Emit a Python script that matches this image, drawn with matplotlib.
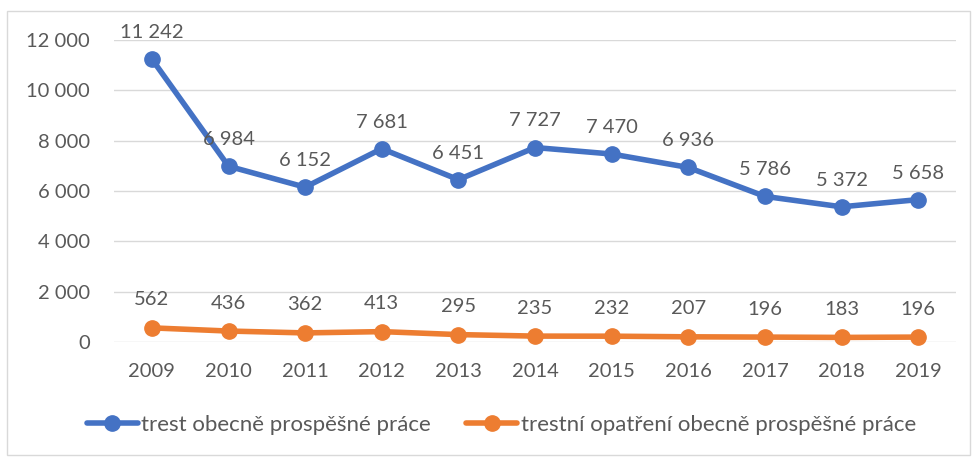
import matplotlib
matplotlib.use("Agg")
import matplotlib.pyplot as plt
from matplotlib.patches import Rectangle

years = ["2009", "2010", "2011", "2012", "2013", "2014", "2015", "2016", "2017", "2018", "2019"]
trest = [11242, 6984, 6152, 7681, 6451, 7727, 7470, 6936, 5786, 5372, 5658]
opatreni = [562, 436, 362, 413, 295, 235, 232, 207, 196, 183, 196]
series_names = ["trest obecně prospěšné práce", "trestní opatření obecně prospěšné práce"]
yticks = [0, 2000, 4000, 6000, 8000, 10000, 12000]

plt.rcParams['font.family'] = ['Lato', 'DejaVu Sans']
txt = '#595959'
blue = '#4472C4'
orange = '#ED7D31'
fs = 14.5

def fmt(v):
    return f"{v:,}".replace(",", " ")

fig = plt.figure(figsize=(9.79, 4.57), dpi=100)
fig.patches.append(Rectangle((7/979, 2/457), 963/979, 444/457, transform=fig.transFigure,
                             fill=False, edgecolor='#D9D9D9', linewidth=1))
ax = fig.add_axes([0.116, 0.2516, 0.861, 0.6609])
x = list(range(len(years)))
ax.plot(x, trest, color=blue, lw=4, marker='o', ms=11, label=series_names[0], zorder=3,
        solid_capstyle='round')
ax.plot(x, opatreni, color=orange, lw=4, marker='o', ms=11, label=series_names[1], zorder=3,
        solid_capstyle='round')
for i, v in enumerate(trest):
    ax.annotate(fmt(v), (i, v), xytext=(0, 13), textcoords='offset points', ha='center',
                va='bottom', fontsize=fs, color=txt)
for i, v in enumerate(opatreni):
    ax.annotate(fmt(v), (i, v), xytext=(0, 14), textcoords='offset points', ha='center',
                va='bottom', fontsize=fs, color=txt)

ax.set_xlim(-0.5, len(years) - 0.5)
ax.set_ylim(0, 12000)
ax.set_yticks(yticks)
ax.set_yticklabels([fmt(t) for t in yticks])
ax.set_xticks(x)
ax.set_xticklabels(years)
ax.tick_params(axis='both', length=0, labelsize=fs, labelcolor=txt)
ax.tick_params(axis='y', pad=17)
ax.tick_params(axis='x', pad=15)
ax.grid(axis='y', color='#D9D9D9', lw=1)
ax.set_axisbelow(True)
for s in ax.spines.values():
    s.set_visible(False)
for ln in ax.lines:
    ln.set_clip_on(False)

fig.legend(loc='center', bbox_to_anchor=(0.512, 0.07), ncol=2, frameon=False, fontsize=16,
           labelcolor=txt, handlelength=2.3, handletextpad=0.15, columnspacing=1.6)
fig.savefig("out.png", dpi=100)
